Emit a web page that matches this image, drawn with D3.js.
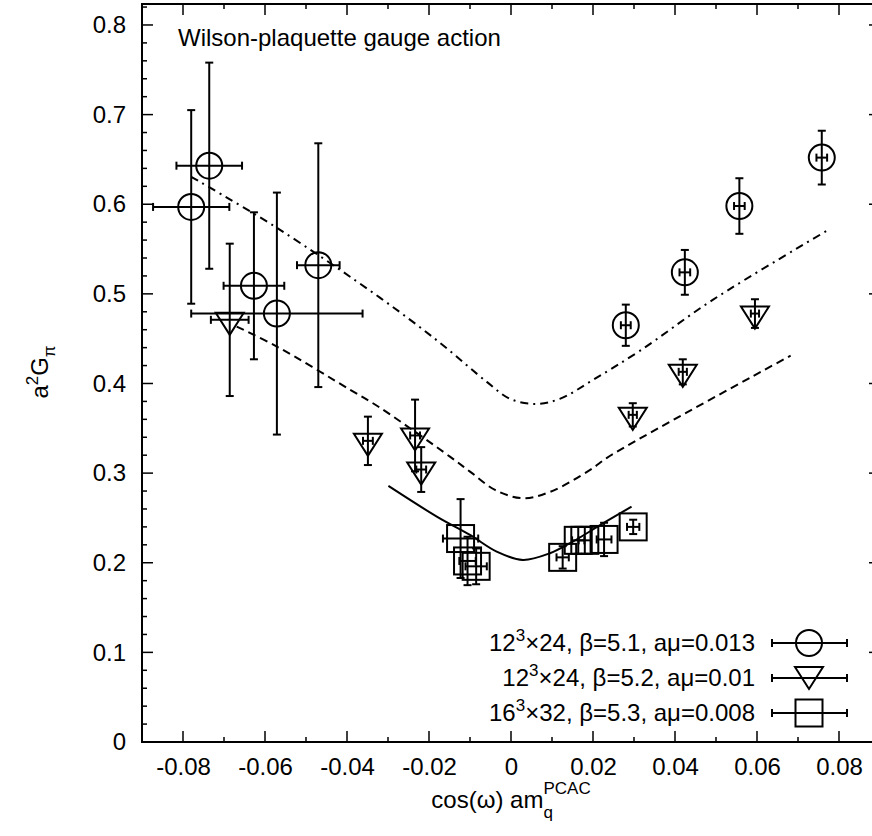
<!DOCTYPE html>
<html>
<head>
<meta charset="utf-8">
<script src="https://cdn.jsdelivr.net/npm/d3@7"></script>
<style>
  body { margin: 0; background: #fff; }
  text { font-family: "Liberation Sans", Arial, sans-serif; fill: #000; }
</style>
</head>
<body>
<div id="chart"></div>
<script>
// beta=5.1 (circles)
var b51X    = [-0.0780, -0.0736, -0.0627, -0.0571, -0.0470, 0.0280, 0.0424, 0.0557, 0.0758];
var b51Y    = [0.597, 0.643, 0.509, 0.478, 0.532, 0.465, 0.524, 0.598, 0.652];
var b51XErr = [0.0093, 0.0080, 0.0074, 0.0209, 0.0052, 0.0012, 0.0013, 0.0013, 0.0013];
var b51YErr = [0.108, 0.115, 0.082, 0.135, 0.136, 0.023, 0.025, 0.031, 0.030];

// beta=5.2 (triangles)
var b52X    = [-0.0686, -0.0349, -0.0234, -0.0219, 0.0297, 0.0419, 0.0595];
var b52Y    = [0.471, 0.336, 0.342, 0.304, 0.365, 0.413, 0.478];
var b52XErr = [0.0046, 0.0012, 0.0012, 0.0012, 0.0010, 0.0010, 0.0010];
var b52YErr = [0.085, 0.027, 0.040, 0.025, 0.013, 0.014, 0.016];

// beta=5.3 (squares)
var b53X    = [-0.0123, -0.0106, -0.0085, 0.0126, 0.0164, 0.0180, 0.0227, 0.0298];
var b53Y    = [0.227, 0.202, 0.196, 0.206, 0.225, 0.225, 0.226, 0.240];
var b53XErr = [0.0043, 0.0020, 0.0026, 0.0015, 0.0015, 0.0015, 0.0018, 0.0015];
var b53YErr = [0.044, 0.027, 0.020, 0.0125, 0.015, 0.015, 0.0186, 0.008];

// fit curves
var fit51X = [-0.0780, -0.0575, -0.0319, -0.0173, -0.0059, -0.0002, 0.0059, 0.0119, 0.0200, 0.0314, 0.0492, 0.0770];
var fit51Y = [0.6306, 0.5748, 0.4955, 0.4453, 0.4018, 0.3828, 0.3772, 0.3828, 0.4040, 0.4364, 0.4933, 0.5703];
var fit52X = [-0.0669, -0.0571, -0.0392, -0.0319, -0.0149, -0.0100, -0.0039, 0.0029, 0.0095, 0.0193, 0.0234, 0.0339, 0.0682];
var fit52Y = [0.4635, 0.4412, 0.3929, 0.3728, 0.3184, 0.3017, 0.2813, 0.2720, 0.2790, 0.3036, 0.3170, 0.3449, 0.4311];
var fit53X = [-0.0299, -0.0181, -0.0100, -0.0035, 0.0029, 0.0095, 0.0144, 0.0225, 0.0294];
var fit53Y = [0.2857, 0.2515, 0.2310, 0.2124, 0.2031, 0.2106, 0.2218, 0.2441, 0.2626];

var xTicks = [-0.08, -0.06, -0.04, -0.02, 0, 0.02, 0.04, 0.06, 0.08];
var yTicks = [0, 0.1, 0.2, 0.3, 0.4, 0.5, 0.6, 0.7, 0.8];
var legendLabels = ['β=5.1, aμ=0.013', 'β=5.2, aμ=0.01', 'β=5.3, aμ=0.008'];
var legendLattice = [['12', '3', '×24, '], ['12', '3', '×24, '], ['16', '3', '×32, ']];

var W = 872, H = 836;
var pLeft = 142, pRight = 880, pTop = 4, pBottom = 742;

var svg = d3.select('#chart').append('svg')
	.attr('width', W)
	.attr('height', H);

var x = d3.scaleLinear().domain([-0.09, 0.09]).range([pLeft, pRight]);
var y = d3.scaleLinear().domain([0, 0.8234]).range([pBottom, pTop]);

var fs = 24, fsSmall = 17;

// ticks (inward, mirrored)
var minorX = d3.range(-9, 10).filter(function(k) { return Math.abs(k) % 2 == 1; })
	.map(function(k) { return k / 100; });
var minorY = d3.range(0, 42).filter(function(k) { return k % 5 != 0; })
	.map(function(k) { return k * 0.02; });

var tickG = svg.append('g').attr('stroke', '#000').attr('stroke-width', 1.5);
xTicks.forEach(function(v) {
	tickG.append('line').attr('x1', x(v)).attr('x2', x(v)).attr('y1', pBottom).attr('y2', pBottom - 11);
	tickG.append('line').attr('x1', x(v)).attr('x2', x(v)).attr('y1', pTop).attr('y2', pTop + 11);
});
minorX.forEach(function(v) {
	tickG.append('line').attr('x1', x(v)).attr('x2', x(v)).attr('y1', pBottom).attr('y2', pBottom - 5);
	tickG.append('line').attr('x1', x(v)).attr('x2', x(v)).attr('y1', pTop).attr('y2', pTop + 5);
});
yTicks.forEach(function(v) {
	tickG.append('line').attr('x1', pLeft).attr('x2', pLeft + 11).attr('y1', y(v)).attr('y2', y(v));
	tickG.append('line').attr('x1', pRight).attr('x2', pRight - 11).attr('y1', y(v)).attr('y2', y(v));
});
minorY.forEach(function(v) {
	tickG.append('line').attr('x1', pLeft).attr('x2', pLeft + 5).attr('y1', y(v)).attr('y2', y(v));
	tickG.append('line').attr('x1', pRight).attr('x2', pRight - 5).attr('y1', y(v)).attr('y2', y(v));
});

// tick labels via d3 axes
var xAxis = d3.axisBottom(x).tickValues(xTicks).tickSize(0).tickPadding(16)
	.tickFormat(function(d) { return d == 0 ? '0' : d.toFixed(2); });
var yAxis = d3.axisLeft(y).tickValues(yTicks).tickSize(0).tickPadding(16)
	.tickFormat(function(d) { return d == 0 ? '0' : d.toFixed(1); });

var gx = svg.append('g').attr('transform', 'translate(0,' + pBottom + ')').call(xAxis);
var gy = svg.append('g').attr('transform', 'translate(' + pLeft + ',0)').call(yAxis);
[gx, gy].forEach(function(g) {
	g.select('.domain').remove();
	g.selectAll('text').style('font-size', fs + 'px').attr('fill', '#000')
		.style('font-family', '"Liberation Sans", Arial, sans-serif');
});

// frame
svg.append('rect')
	.attr('x', pLeft).attr('y', pTop)
	.attr('width', pRight - pLeft).attr('height', pBottom - pTop)
	.attr('fill', 'none').attr('stroke', '#000').attr('stroke-width', 2);

// curves
var line = d3.line()
	.x(function(d) { return x(d[0]); })
	.y(function(d) { return y(d[1]); })
	.curve(d3.curveCatmullRom);

function drawFit(xs, ys, dash) {
	svg.append('path')
		.attr('d', line(d3.zip(xs, ys)))
		.attr('fill', 'none')
		.attr('stroke', '#000')
		.attr('stroke-width', 2)
		.attr('stroke-dasharray', dash);
}
drawFit(fit51X, fit51Y, '8,5,2,5');
drawFit(fit52X, fit52Y, '8,5');
drawFit(fit53X, fit53Y, null);

// markers
function marker(g, shape, cx, cy) {
	if (shape == 'circle') {
		g.append('circle').attr('cx', cx).attr('cy', cy).attr('r', 13);
	} else if (shape == 'tri') {
		g.append('path').attr('d', 'M' + (cx - 14) + ',' + (cy - 7) + 'L' + (cx + 14) + ',' + (cy - 7) +
			'L' + cx + ',' + (cy + 15) + 'Z');
	} else {
		g.append('rect').attr('x', cx - 13.5).attr('y', cy - 13.5).attr('width', 27).attr('height', 27);
	}
}

function drawSeries(xs, ys, xe, ye, shape) {
	var g = svg.append('g')
		.attr('fill', 'none')
		.attr('stroke', '#000')
		.attr('stroke-width', 2);
	var cap = 4;
	for (var i = 0; i < xs.length; i++) {
		var cx = x(xs[i]), cy = y(ys[i]);
		var x0 = x(xs[i] - xe[i]), x1 = x(xs[i] + xe[i]);
		var y0 = y(ys[i] - ye[i]), y1 = y(ys[i] + ye[i]);
		marker(g, shape, cx, cy);
		g.append('line').attr('x1', x0).attr('x2', x1).attr('y1', cy).attr('y2', cy);
		g.append('line').attr('x1', x0).attr('x2', x0).attr('y1', cy - cap).attr('y2', cy + cap);
		g.append('line').attr('x1', x1).attr('x2', x1).attr('y1', cy - cap).attr('y2', cy + cap);
		g.append('line').attr('x1', cx).attr('x2', cx).attr('y1', y0).attr('y2', y1);
		g.append('line').attr('x1', cx - cap).attr('x2', cx + cap).attr('y1', y0).attr('y2', y0);
		g.append('line').attr('x1', cx - cap).attr('x2', cx + cap).attr('y1', y1).attr('y2', y1);
	}
}
drawSeries(b51X, b51Y, b51XErr, b51YErr, 'circle');
drawSeries(b52X, b52Y, b52XErr, b52YErr, 'tri');
drawSeries(b53X, b53Y, b53XErr, b53YErr, 'square');

// title text
svg.append('text')
	.attr('x', 178).attr('y', 46)
	.style('font-size', fs + 'px')
	.text('Wilson-plaquette gauge action');

// legend
var shapes = ['circle', 'tri', 'square'];
var rowY = [643, 678, 713];
var lg = svg.append('g');
for (var i = 0; i < 3; i++) {
	var t = lg.append('text')
		.attr('x', 755).attr('y', rowY[i] + 8)
		.attr('text-anchor', 'end')
		.style('font-size', fs + 'px');
	t.append('tspan').text(legendLattice[i][0]);
	t.append('tspan').attr('dy', -10).style('font-size', fsSmall + 'px').text(legendLattice[i][1]);
	t.append('tspan').attr('dy', 10).text(legendLattice[i][2] + legendLabels[i]);

	var s = lg.append('g').attr('fill', 'none').attr('stroke', '#000').attr('stroke-width', 2);
	s.append('line').attr('x1', 772).attr('x2', 847).attr('y1', rowY[i]).attr('y2', rowY[i]);
	s.append('line').attr('x1', 772).attr('x2', 772).attr('y1', rowY[i] - 4).attr('y2', rowY[i] + 4);
	s.append('line').attr('x1', 847).attr('x2', 847).attr('y1', rowY[i] - 4).attr('y2', rowY[i] + 4);
	marker(s, shapes[i], 809, shapes[i] == 'tri' ? rowY[i] - 4 : rowY[i]);
}

// x label
var xl = svg.append('g');
var xMain = xl.append('text').attr('y', 808).style('font-size', fs + 'px').text('cos(ω) am');
var mainLen = xMain.node().getComputedTextLength();
var xSub = xl.append('text').attr('y', 818).style('font-size', fsSmall + 'px').text('q');
var xSup = xl.append('text').attr('y', 794).style('font-size', fsSmall + 'px').text('PCAC');
var tot = mainLen + Math.max(xSub.node().getComputedTextLength(), xSup.node().getComputedTextLength());
var sx = x(0) - tot / 2;
xMain.attr('x', sx);
xSub.attr('x', sx + mainLen);
xSup.attr('x', sx + mainLen);

// y label
var yl = svg.append('text')
	.attr('transform', 'translate(48,372) rotate(-90)')
	.attr('text-anchor', 'middle')
	.style('font-size', fs + 'px');
yl.append('tspan').text('a');
yl.append('tspan').attr('dy', -10).style('font-size', fsSmall + 'px').text('2');
yl.append('tspan').attr('dy', 10).text('G');
yl.append('tspan').attr('dy', 7).style('font-size', fsSmall + 'px').text('π');
</script>
</body>
</html>
